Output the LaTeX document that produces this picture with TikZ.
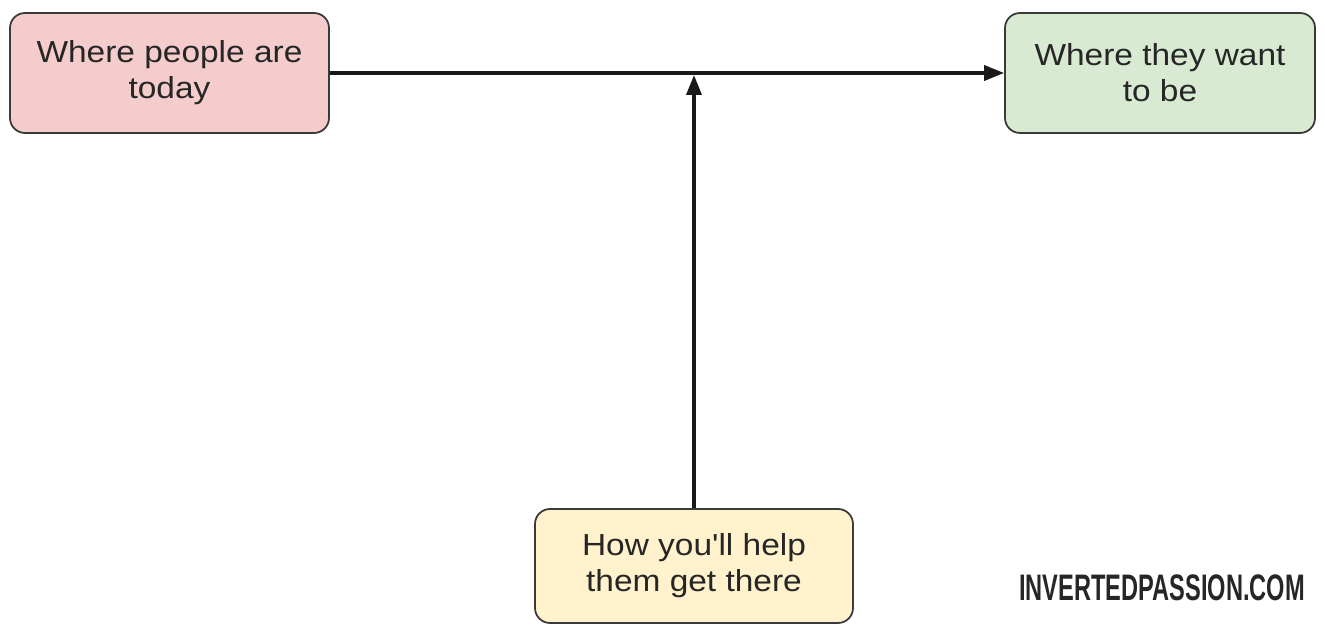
\documentclass[tikz,border=0pt]{standalone}
\usepackage{fontspec}
\usepackage{tikz}
\usetikzlibrary{arrows.meta}
\newfontfamily\boxfont{Liberation Sans}[FakeStretch=1.1]
\newfontfamily\markfont{Liberation Sans}[FakeStretch=0.64]
\definecolor{nowred}{HTML}{F4CCCC}
\definecolor{goalgreen}{HTML}{D9EAD3}
\definecolor{howyellow}{HTML}{FFF2CC}
\definecolor{edgegray}{HTML}{3A3A3A}
\tikzset{
  stage/.style={draw=edgegray, line width=1pt, rounded corners=0.3cm,
    align=center, text=black!85, inner sep=0pt,
    font=\boxfont\fontsize{17.3}{20.5}\selectfont},
  link/.style={line width=2pt, black!90}
}
\begin{document}
\begin{tikzpicture}[>={Triangle[length=0.4cm,width=0.3cm]}]
	\useasboundingbox (0, 0) rectangle (26.5, 12.5);
	\node [stage, fill=nowred, minimum width=6.38cm, minimum height=2.4cm] (NOW) at (3.39, 11.04) {Where people are\\today};
	\node [stage, fill=goalgreen, minimum width=6.2cm, minimum height=2.4cm] (GOAL) at (23.2, 11.04) {Where they want\\to be};
	\node [stage, fill=howyellow, minimum width=6.36cm, minimum height=2.28cm] (HOW) at (13.88, 1.18) {How you'll help\\them get there};
	\node [font=\markfont\bfseries\fontsize{21}{24}\selectfont, text=black!85] (SITE) at (23.24, 0.74) {INVERTEDPASSION.COM};
	\coordinate (MEET) at (13.88, 11.0);
	\draw [link, ->] (NOW) -- (GOAL);
	\draw [link, ->] (HOW) -- (MEET);
\end{tikzpicture}
\end{document}
